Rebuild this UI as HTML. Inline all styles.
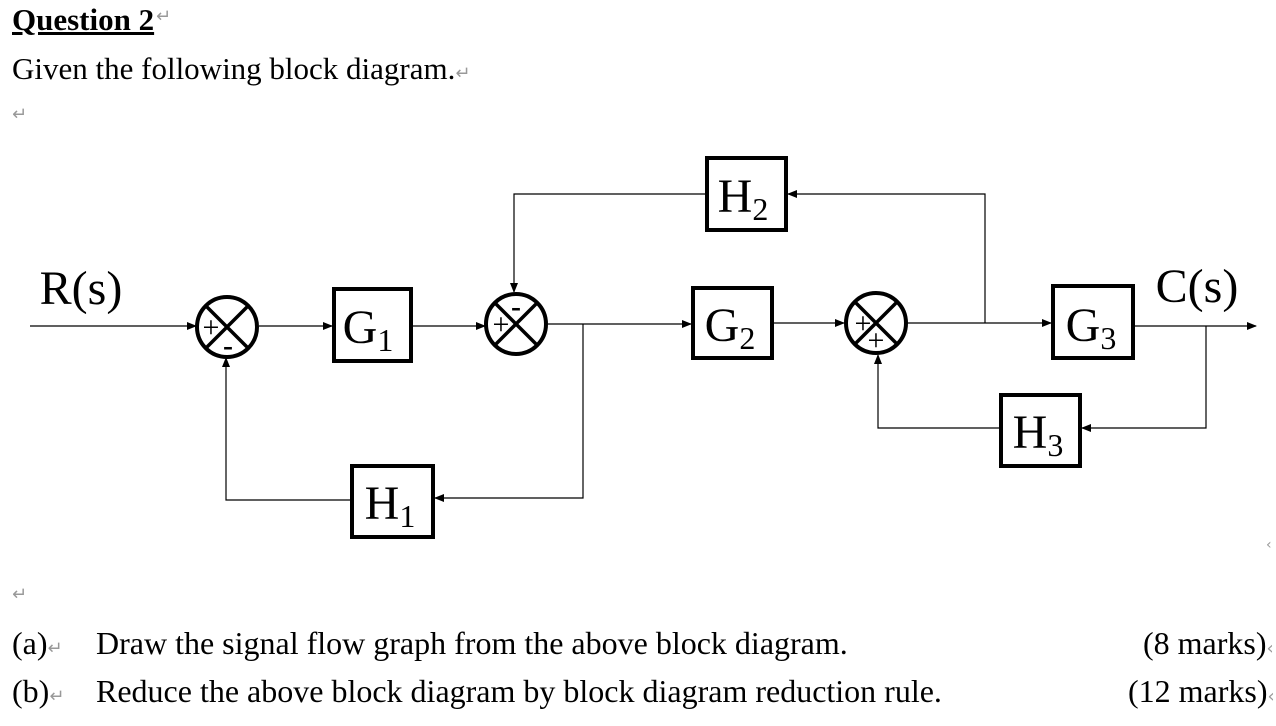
<!DOCTYPE html>
<html><head><style>
body{margin:0;width:1276px;height:726px;background:#fff;overflow:hidden;font-family:"Liberation Serif",serif;}
.t{position:absolute;white-space:nowrap;color:#000;}
.g{color:#999;font-family:"DejaVu Sans",sans-serif;font-size:18px;}
</style></head><body>
<div class="t" style="left:12px;top:2px;font-size:31px;font-weight:bold;text-decoration:underline;">Question 2</div><div class="t g" style="left:156px;top:6px;">↵</div>
<div class="t" style="left:12px;top:51px;font-size:31px;">Given the following block diagram.<span class="g">↵</span></div>
<div class="t g" style="left:12px;top:104px;">↵</div>
<div class="t g" style="left:12px;top:584px;">↵</div>
<div class="t g" style="left:1266px;top:537px;font-size:14px;">‹</div>
<div class="t" style="left:12px;top:625px;font-size:32px;">(a)<span class="g">↵</span></div>
<div class="t" style="left:96px;top:625px;font-size:32px;">Draw the signal flow graph from the above block diagram.</div>
<div class="t" style="left:1143px;top:625px;font-size:32px;">(8 marks)<span class="g">‹</span></div>
<div class="t" style="left:12px;top:673px;font-size:32px;">(b)<span class="g">↵</span></div>
<div class="t" style="left:96px;top:673px;font-size:32px;">Reduce the above block diagram by block diagram reduction rule.</div>
<div class="t" style="left:1128px;top:673px;font-size:32px;">(12 marks)<span class="g">‹</span></div>
<svg width="1276" height="726" style="position:absolute;left:0;top:0" font-family="Liberation Serif, serif">
<defs><marker id="a" markerWidth="10" markerHeight="8" refX="9" refY="4" orient="auto" markerUnits="userSpaceOnUse"><path d="M0,0L10,4L0,8z" fill="#000"/></marker></defs>
<g stroke="#000" stroke-width="1.2" fill="none">
<line x1="30" y1="326" x2="196" y2="326" marker-end="url(#a)"/>
<line x1="259" y1="326" x2="332" y2="326" marker-end="url(#a)"/>
<line x1="412" y1="326" x2="485" y2="326" marker-end="url(#a)"/>
<line x1="548" y1="324" x2="691" y2="324" marker-end="url(#a)"/>
<line x1="773" y1="323" x2="844" y2="323" marker-end="url(#a)"/>
<line x1="907" y1="323" x2="1051" y2="323" marker-end="url(#a)"/>
<line x1="1134" y1="326" x2="1256" y2="326" marker-end="url(#a)"/>
<polyline points="985,323 985,194 788,194" marker-end="url(#a)"/>
<polyline points="706,194 514,194 514,292" marker-end="url(#a)"/>
<polyline points="583,324 583,498 435,498" marker-end="url(#a)"/>
<polyline points="351,500 226,500 226,358" marker-end="url(#a)"/>
<polyline points="1206,326 1206,428 1082,428" marker-end="url(#a)"/>
<polyline points="1000,428 878,428 878,355" marker-end="url(#a)"/>
</g>
<g stroke="#000" stroke-width="4" fill="#fff">
<rect x="334" y="289" width="77" height="72"/>
<rect x="693" y="288" width="79" height="70"/>
<rect x="1053" y="286" width="80" height="72"/>
<rect x="707" y="158" width="79" height="72"/>
<rect x="1001" y="395" width="79" height="71"/>
<rect x="352" y="466" width="81" height="71"/>
</g>
<g stroke="#000" stroke-width="4" fill="#fff">
<circle cx="227" cy="327" r="30"/><circle cx="516" cy="324" r="30"/><circle cx="876" cy="323" r="30"/>
</g>
<g stroke="#000" stroke-width="3.5">
<path d="M206,306L248,348M248,306L206,348"/>
<path d="M495,303L537,345M537,303L495,345"/>
<path d="M855,302L897,344M897,302L855,344"/>
</g>
<g font-size="30" text-anchor="middle">
<text x="211" y="337">+</text><text x="228" y="355" font-weight="bold">-</text>
<text x="501" y="334">+</text><text x="516" y="316" font-weight="bold">-</text>
<text x="863" y="333">+</text><text x="876" y="350">+</text>
</g>
<g font-size="48" text-anchor="middle">
<text x="368" y="343">G<tspan font-size="32" dy="8">1</tspan></text>
<text x="730" y="341">G<tspan font-size="32" dy="8">2</tspan></text>
<text x="1091" y="341">G<tspan font-size="32" dy="8">3</tspan></text>
<text x="743" y="212">H<tspan font-size="32" dy="8">2</tspan></text>
<text x="1038" y="448">H<tspan font-size="32" dy="8">3</tspan></text>
<text x="390" y="519">H<tspan font-size="32" dy="8">1</tspan></text>
<text x="81" y="304">R(s)</text>
<text x="1197" y="302">C(s)</text>
</g>
</svg>
</body></html>
